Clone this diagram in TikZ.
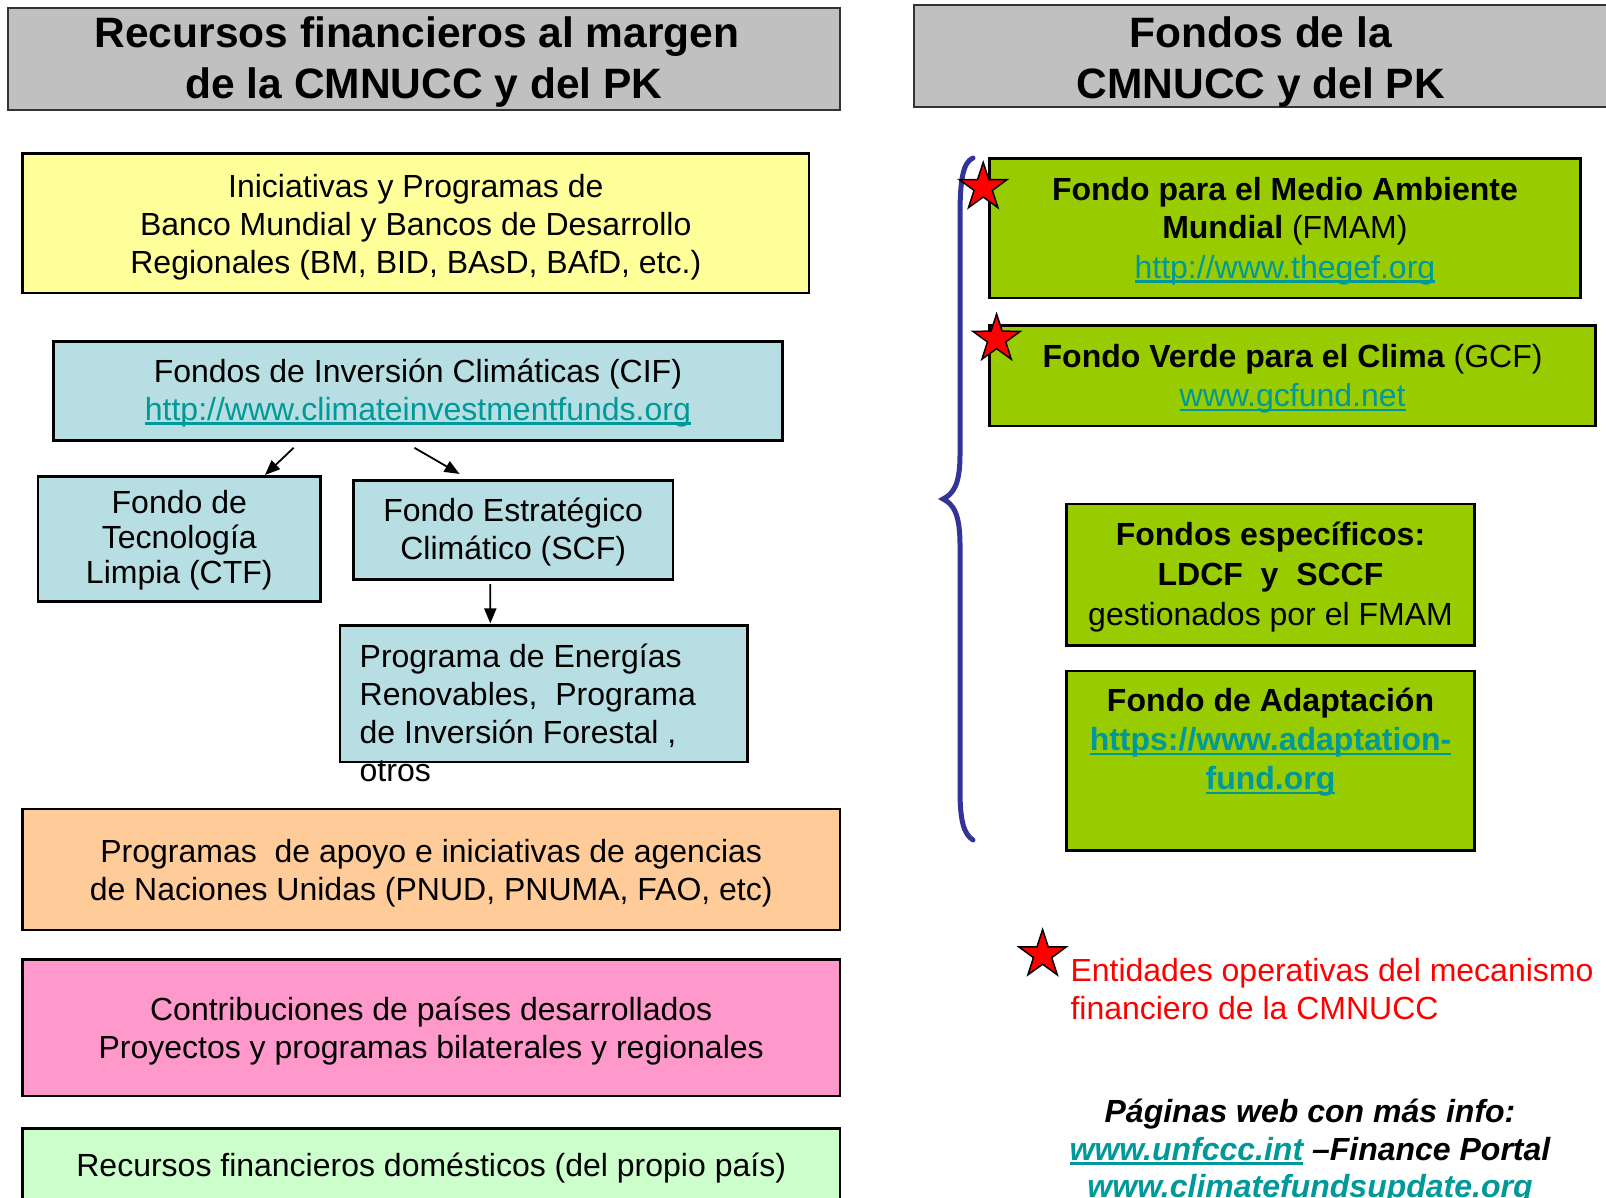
\documentclass[tikz,border=0pt]{standalone}
\usepackage{fontspec}
\setmainfont{Liberation Sans}
\usetikzlibrary{shapes.geometric,arrows.meta,calc}
\definecolor{cHdr}{HTML}{C0C0C0}
\definecolor{cYel}{HTML}{FFFF99}
\definecolor{cBlue}{HTML}{B7DEE2}
\definecolor{cOra}{HTML}{FFCC99}
\definecolor{cPink}{HTML}{FF99CC}
\definecolor{cLgr}{HTML}{CCFFCC}
\definecolor{cGrn}{HTML}{99CC00}
\definecolor{cLink}{HTML}{009999}
\definecolor{cBrace}{HTML}{333399}
\newcommand\lnk[1]{{\color{cLink}\setbox0\hbox{#1}\rlap{\rule[-4.5pt]{\wd0}{2.5pt}}\box0\relax}}
\begin{document}
\begin{tikzpicture}[x=1pt,y=-1pt,
  hdr/.style={draw=black!80,line width=2pt,fill=cHdr,inner sep=0pt},
  hdrt/.style={inner sep=0pt,align=center,font=\fontsize{42.5}{51}\selectfont\bfseries},
  bx/.style={draw=black,line width=2.7pt,inner sep=0pt},
  txt/.style={inner sep=0pt,font=\fontsize{32}{38}\selectfont},
  tin/.style={txt,align=center},
  arr/.style={line width=1.8pt,-{Triangle[length=15pt,width=12pt]}},
  redstar/.style={star,star points=5,star point ratio=2.6,fill=red,draw=black,
    line width=1.5pt,minimum size=50pt,inner sep=0pt}]
\useasboundingbox (0,0) rectangle (1606,1197);
\clip (0,0) rectangle (1606,1197);
\fill[white] (0,0) rectangle (1606,1197);

% headers
\node[hdr,minimum width=831.6,minimum height=101.4] (lhdr) at (424,58.9) {};
\node[hdrt,yshift=-3.5pt] (lhdrt) at (lhdr)
  {Recursos financieros al margen\hspace*{14pt}\\de la CMNUCC y del PK};
\node[hdr,minimum width=696.4,minimum height=101.4] (rhdr) at (1261.8,55.8) {};
\node[hdrt] (rhdrt) at (1260.8,61.9) {Fondos de la\\CMNUCC y del PK};

% left column
\node[bx,fill=cYel,minimum width=786.6,minimum height=139.3] (yel) at (415.8,223.3) {};
\node[tin,yshift=-3.5pt] (yelt) at (yel)
  {Iniciativas y Programas de\\Banco Mundial y Bancos de Desarrollo\\Regionales (BM, BID, BAsD, BAfD, etc.)};
\node[bx,fill=cBlue,minimum width=729.2,minimum height=99.3] (cif) at (417.9,390.8) {};
\node[tin,yshift=-2pt] (cift) at (cif)
  {Fondos de Inversión Climáticas (CIF)\\\lnk{http://www.climateinvestmentfunds.org}};
\node[bx,fill=cBlue,minimum width=282.7,minimum height=124.9] (ctf) at (179.3,538.8) {};
\node[tin,font=\fontsize{32}{35}\selectfont,yshift=-1pt] (ctft) at (ctf)
  {Fondo de\\Tecnología\\Limpia (CTF)};
\node[bx,fill=cBlue,minimum width=319.5,minimum height=99.4] (scf) at (513.2,530) {};
\node[tin,yshift=-2pt] (scft) at (scf) {Fondo Estratégico\\Climático (SCF)};
\node[bx,fill=cBlue,minimum width=407.7,minimum height=136.2] (prog) at (543.9,693.9) {};
\node[txt,anchor=west,align=left] (progt) at (359.5,712.6)
  {Programa de Energías\\Renovables,\ \ Programa\\de Inversión Forestal ,\\otros};
\node[bx,fill=cOra,minimum width=817.3,minimum height=120.9] (ora) at (431.2,869.5) {};
\node[tin,yshift=-3.5pt] (orat) at (ora)
  {Programas\ \ de apoyo e iniciativas de agencias\\de Naciones Unidas (PNUD, PNUMA, FAO, etc)};
\node[bx,fill=cPink,minimum width=817.3,minimum height=136.2] (pink) at (431.2,1027.8) {};
\node[tin,yshift=-3.5pt] (pinkt) at (pink)
  {Contribuciones de países desarrollados\\Proyectos y programas bilaterales y regionales};
\node[bx,fill=cLgr,minimum width=817.3,minimum height=91.3] (lgr) at (431.2,1174.4) {};
\node[txt] (lgrt) at (431.2,1168.5) {Recursos financieros domésticos (del propio país)};

% arrows
\coordinate (a1s) at ($(cif.south west)+(241.7,6)$);
\coordinate (a2s) at ($(cif.south west)+(362.5,6)$);
\coordinate (a3s) at ($(scf.south west)+(138.2,3)$);
\draw[arr] (a1s) -- ($(ctf.north west)+(228.4,0)$);
\draw[arr] (a2s) -- ($(scf.north west)+(107.5,-5)$);
\draw[arr] (a3s) -- ($(prog.north west)+(151.6,-1)$);

% right column
\node[bx,fill=cGrn,minimum width=591,minimum height=139.2] (fmam) at (1284.9,228.4) {};
\node[tin,yshift=-2.5pt] (fmamt) at (fmam)
  {\textbf{Fondo para el Medio Ambiente}\\\textbf{Mundial} (FMAM)\\[2pt]\lnk{http://www.thegef.org}};
\node[bx,fill=cGrn,minimum width=606.3,minimum height=100.4] (gcf) at (1292.6,375.9) {};
\node[tin,yshift=-3pt] (gcft) at (gcf)
  {\textbf{Fondo Verde para el Clima} (GCF)\\[1pt]\lnk{www.gcfund.net}};
\node[bx,fill=cGrn,minimum width=408.6,minimum height=141.3] (esp) at (1270.5,574.6) {};
\node[tin,font=\fontsize{32}{40}\selectfont,yshift=-2pt] (espt) at (esp)
  {\textbf{Fondos específicos:}\\\textbf{LDCF\ \ y\ \ SCCF}\\gestionados por el FMAM};
\node[bx,fill=cGrn,minimum width=408.6,minimum height=179.3] (adap) at (1270.5,760.5) {};
\node[tin,font=\fontsize{32}{39}\selectfont\bfseries] (adapt) at (1270.5,742.5)
  {Fondo de Adaptación\\\lnk{https://www.adaptation-}\\\lnk{fund.org}};

% brace
\draw[cBrace,line width=5pt,line cap=round]
  (973,158) .. controls (963,162) and (960,180) .. (960,215)
  -- (960,455) .. controls (960,485) and (953,494) .. (943,499)
  .. controls (953,504) and (960,513) .. (960,545)
  -- (960,790) .. controls (960,822) and (964,834) .. (973,840);

% stars
\node[redstar] (s1) at (983.2,187.4) {};
\node[redstar] (s2) at (996.6,339) {};
\node[redstar] (s3) at (1042.6,954.6) {};

% legend
\node[txt,anchor=west,align=left,text=red] (legt) at (1070.3,988.9)
  {Entidades operativas del mecanismo\\financiero de la CMNUCC};
\node[tin,font=\fontsize{32}{37.5}\selectfont\bfseries\itshape] (webt) at (1310,1152)
  {Páginas web con más info:\\\lnk{www.unfccc.int} –Finance Portal\\\lnk{www.climatefundsupdate.org}};
\end{tikzpicture}
\end{document}
